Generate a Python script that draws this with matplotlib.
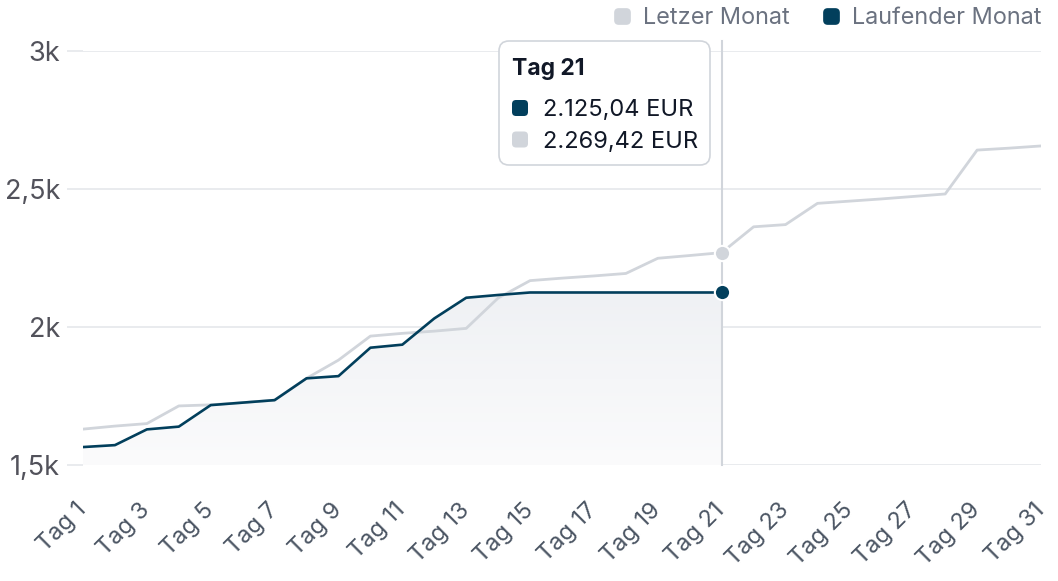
import matplotlib
matplotlib.use("Agg")
import matplotlib.pyplot as plt
import numpy as np
from matplotlib.colors import LinearSegmentedColormap
from matplotlib.lines import Line2D
from matplotlib.patches import FancyBboxPatch
from matplotlib.path import Path
from matplotlib.transforms import IdentityTransform

plt.rcParams["font.family"] = ["Inter", "DejaVu Sans"]

days = list(range(1, 32))
letzter_monat = [
    1630, 1641, 1650, 1714, 1718, 1726, 1735, 1814, 1880, 1967, 1977,
    1985, 1995, 2105, 2168, 2177, 2185, 2194, 2249, 2259, 2269.42,
    2363, 2371, 2448, 2456, 2464, 2473, 2482, 2641, 2648, 2656,
]
laufender_monat = [
    1565, 1572, 1629, 1639, 1717, 1726, 1735, 1814, 1822, 1925, 1936,
    2031, 2106, 2116, 2125.04, 2125.04, 2125.04, 2125.04, 2125.04,
    2125.04, 2125.04,
]
x_ticks = days[::2]
x_labels = [f"Tag {d}" for d in x_ticks]
y_ticks = [1500, 2000, 2500, 3000]
y_labels = ["1,5k", "2k", "2,5k", "3k"]
tooltip_title = "Tag 21"
tooltip_rows = ["2.125,04 EUR", "2.269,42 EUR"]

dark = "#023f5c"
light = "#d1d5db"
grid = "#e5e7eb"

W, H = 1058, 581
fig = plt.figure(figsize=(W / 100, H / 100), dpi=100)
ax = fig.add_axes([83 / W, (H - 465) / H, (1041 - 83) / W, (465 - 51) / H])

# gradient fill under current month
days_cur = days[: len(laufender_monat)]
poly = ax.fill_between(days_cur, laufender_monat, 1500, color="none", lw=0)
cmap = LinearSegmentedColormap.from_list("fill", ["#fbfbfc", "#eff1f4"])
grad = np.linspace(0, 1, 256).reshape(-1, 1)
im = ax.imshow(grad, extent=[1, 21, 1500, max(laufender_monat)], origin="lower",
               aspect="auto", cmap=cmap, zorder=1)
im.set_clip_path(poly.get_paths()[0], ax.transData)

ax.axvline(21, ymax=1.024, color=light, lw=1.5, zorder=2, clip_on=False)

ax.plot(days, letzter_monat, color=light, lw=2, zorder=3, solid_joinstyle="round")
ax.plot(days_cur, laufender_monat, color=dark, lw=1.9, zorder=4, solid_joinstyle="round")
ax.plot(21, letzter_monat[20], "o", ms=11, color=light, mec="white", mew=1.5, zorder=5)
ax.plot(21, laufender_monat[20], "o", ms=11, color=dark, mec="white", mew=1.5, zorder=6)

ax.set_xlim(1, 31)
ax.set_ylim(1500, 3000)
ax.set_yticks(y_ticks, y_labels)
ax.set_xticks(x_ticks, x_labels, rotation=45, ha="right", va="center",
              rotation_mode="anchor")
ax.tick_params(axis="y", length=11.5, width=1.2, color=grid, pad=5,
               labelsize=19.5, labelcolor="#52525b")
ax.tick_params(axis="x", length=0, pad=30, labelsize=17, labelcolor="#4b5563")
ax.grid(axis="y", color=grid, lw=1.2)
ax.set_axisbelow(True)
for s in ax.spines.values():
    s.set_visible(False)

# rounded square marker
rb = FancyBboxPatch((-0.5, -0.5), 1, 1, boxstyle="round,pad=0,rounding_size=0.25")
rsq = Path(rb.get_path().vertices, rb.get_path().codes)

handles = [
    Line2D([], [], ls="none", marker=rsq, ms=11, color=light, label="Letzer Monat"),
    Line2D([], [], ls="none", marker=rsq, ms=11, color=dark, label="Laufender Monat"),
]
fig.legend(handles=handles, loc="center right", bbox_to_anchor=(1041 / W, 1 - 18 / H),
           ncol=2, frameon=False, borderaxespad=0, borderpad=0, handlelength=0.65,
           handletextpad=0.55, columnspacing=1.45, fontsize=16.9, labelcolor="#6b7280")

# tooltip
idt = IdentityTransform()
fig.add_artist(FancyBboxPatch((499, H - 165), 211, 124,
                              boxstyle="round,pad=0,rounding_size=10",
                              transform=idt, fc="white", ec="#d1d5db", lw=1.2,
                              zorder=10))
fig.text(512, H - 75, tooltip_title, transform=idt, fontsize=16.5, fontweight="bold",
         color="#111827", va="baseline", zorder=11)
for i, (txt, c) in enumerate(zip(tooltip_rows, [dark, light])):
    ytop = 100 + i * 31.5
    fig.add_artist(FancyBboxPatch((512, H - ytop - 16), 16, 16,
                                  boxstyle="round,pad=0,rounding_size=4",
                                  transform=idt, fc=c, ec="none", zorder=11))
    fig.text(543, H - ytop - 16.5, txt, transform=idt, fontsize=17,
             color="#111827", va="baseline", zorder=11)

fig.savefig("out.png", dpi=100)
